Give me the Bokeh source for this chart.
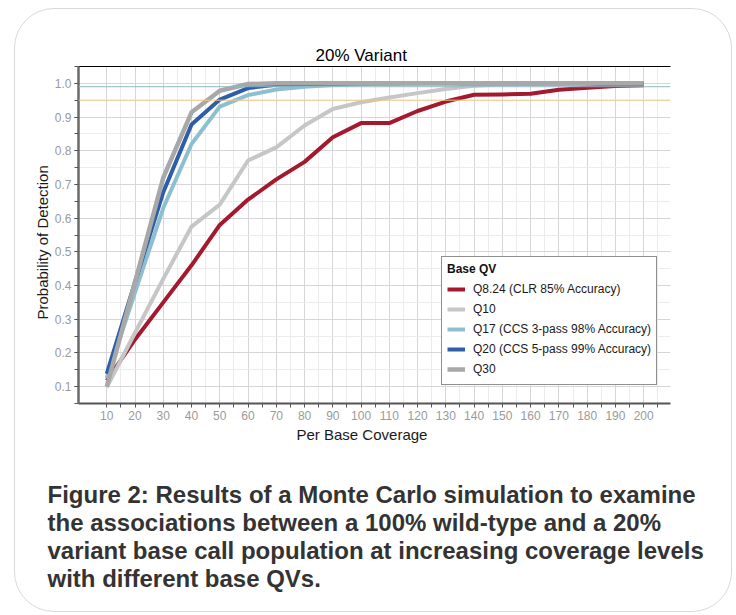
from bokeh.plotting import figure
from bokeh.models import Range1d, LinearAxis, FixedTicker, NumeralTickFormatter, Span, Title
from bokeh.embed import file_html
from bokeh.resources import INLINE

# ---------------- data ----------------
coverage = [10, 20, 30, 40, 50, 60, 70, 80, 90, 100,
            110, 120, 130, 140, 150, 160, 170, 180, 190, 200]
q8_24 = [0.118, 0.24, 0.35, 0.46, 0.58, 0.655, 0.715, 0.767, 0.84, 0.882,
         0.882, 0.918, 0.946, 0.966, 0.967, 0.969, 0.981, 0.987, 0.992, 0.994]
q10 = [0.098, 0.26, 0.42, 0.575, 0.64, 0.771, 0.81, 0.875, 0.924, 0.944,
       0.958, 0.971, 0.983, 0.993, 0.997, 0.998, 0.999, 1.0, 1.0, 1.0]
q17 = [0.125, 0.38, 0.63, 0.82, 0.931, 0.965, 0.982, 0.99, 0.995, 0.998,
       0.999, 1.0, 1.0, 1.0, 1.0, 1.0, 1.0, 1.0, 1.0, 1.0]
q20 = [0.138, 0.41, 0.677, 0.878, 0.952, 0.986, 0.996, 0.998, 0.999, 1.0,
       1.0, 1.0, 1.0, 1.0, 1.0, 1.0, 1.0, 1.0, 1.0, 1.0]
q30 = [0.10, 0.41, 0.72, 0.914, 0.978, 0.998, 1.0, 1.0, 1.0, 1.0,
       1.0, 1.0, 1.0, 1.0, 1.0, 1.0, 1.0, 1.0, 1.0, 1.0]

series_values = [q8_24, q10, q17, q20, q30]
series_labels = ["Q8.24 (CLR 85% Accuracy)", "Q10", "Q17 (CCS 3-pass 98% Accuracy)",
                 "Q20 (CCS 5-pass 99% Accuracy)", "Q30"]
series_colors = ["#A5192F", "#C6C6C6", "#8EBFD0", "#2D5EA6", "#A8A8A8"]
series_widths = [4, 4, 4, 4, 4.5]

x_ticks = [10, 20, 30, 40, 50, 60, 70, 80, 90, 100,
           110, 120, 130, 140, 150, 160, 170, 180, 190, 200]
y_ticks = [0.1, 0.2, 0.3, 0.4, 0.5, 0.6, 0.7, 0.8, 0.9, 1.0]
threshold_lines = [0.95, 0.99]
threshold_colors = ["#F2C57E", "#8DB8C8"]

title_text = "20% Variant"
x_label = "Per Base Coverage"
y_label = "Probability of Detection"
legend_title = "Base QV"
caption_lines = [
    "Figure 2: Results of a Monte Carlo simulation to examine",
    "the associations between a 100% wild-type and a 20%",
    "variant base call population at increasing coverage levels",
    "with different base QVs.",
]

FONT = "Liberation Sans"

# ---------------- figure ----------------
p = figure(width=718, height=604, output_backend="svg", toolbar_location=None,
           x_range=Range1d(0, 209.5), y_range=Range1d(0.05, 1.05),
           min_border_left=63, min_border_right=63,
           min_border_top=57, min_border_bottom=210)
p.styles = {"border": "1px solid #d9d9d9", "border-radius": "40px",
            "margin-left": "14px", "margin-top": "8px"}
p.border_fill_color = None
p.background_fill_color = "white"
p.outline_line_color = None

# axes
p.xaxis.ticker = FixedTicker(ticks=x_ticks, minor_ticks=[v + 5 for v in [-10] + x_ticks])
p.yaxis.ticker = FixedTicker(ticks=y_ticks,
                             minor_ticks=[round(0.05 * i, 2) for i in range(1, 22)])
p.yaxis.formatter = NumeralTickFormatter(format="0.0")
for ax in (p.xaxis, p.yaxis):
    ax.major_label_text_font = FONT
    ax.major_label_text_font_size = "12px"
    ax.major_label_text_color = "#9A9A9A"
    ax.major_tick_in = 0
    ax.major_tick_out = 4
    ax.minor_tick_in = 0
    ax.minor_tick_out = 4
    ax.major_tick_line_color = "#555555"
    ax.minor_tick_line_color = "#555555"
    ax.axis_line_color = "#555555"
    ax.axis_line_width = 2
    ax.major_label_standoff = 3
p.yaxis.axis_line_color = "#6a6a6a"
p.yaxis.axis_line_width = 2.5

top_axis = LinearAxis(ticker=FixedTicker(ticks=[]), axis_line_color="black",
                      axis_line_width=1, major_tick_line_color=None,
                      minor_tick_line_color=None)
p.add_layout(top_axis, "above")

# grid
for g in (p.xgrid, p.ygrid):
    g.grid_line_color = "#d6d6d6"
    g.grid_line_width = 1
    g.minor_grid_line_color = "#ececec"
    g.minor_grid_line_width = 1

# threshold lines
for loc, col in zip(threshold_lines, threshold_colors):
    p.add_layout(Span(location=loc, dimension="width", line_color=col, line_width=1))

# series
for vals, lab, col, w in zip(series_values, series_labels, series_colors, series_widths):
    p.line(coverage, vals, line_color=col, line_width=w, legend_label=lab,
           line_join="round")

# legend
lg = p.legend[0]
lg.title = legend_title
lg.title_text_font = FONT
lg.title_text_font_style = "bold"
lg.title_text_font_size = "12px"
lg.title_text_color = "#111111"
lg.title_standoff = 3
lg.label_text_font = FONT
lg.label_text_font_size = "12px"
lg.label_text_color = "#1a1a1a"
lg.location = (363, 18)
lg.margin = 0
lg.padding = 5
lg.spacing = 0
lg.label_height = 20
lg.glyph_height = 16
lg.glyph_width = 18
lg.label_standoff = 8
lg.border_line_color = "#222222"
lg.border_line_width = 1
lg.background_fill_color = "white"
lg.background_fill_alpha = 1

# chart title, axis titles and caption as Title annotations
p.add_layout(Title(text=title_text, align="left", offset=237, standoff=4,
                   text_font=FONT, text_font_size="17px", text_font_style="normal",
                   text_color="black"), "above")
p.add_layout(Title(text=x_label, align="left", offset=218, standoff=2,
                   text_font=FONT, text_font_size="15px", text_font_style="normal",
                   text_color="#1a1a1a"), "below")
p.add_layout(Title(text=y_label, align="left", offset=84, standoff=2,
                   text_font=FONT, text_font_size="15px", text_font_style="normal",
                   text_color="#1a1a1a"), "left")
# leading empty line keeps the gap above the caption inside its own box
p.add_layout(Title(text="\n" + "\n".join(caption_lines), align="left", offset=-31,
                   standoff=20, vertical_align="top",
                   text_font=FONT, text_font_size="24px",
                   text_font_style="bold", text_line_height=1.03,
                   text_color="#333333"), "below")

open("out.html", "w").write(file_html(p, INLINE))
